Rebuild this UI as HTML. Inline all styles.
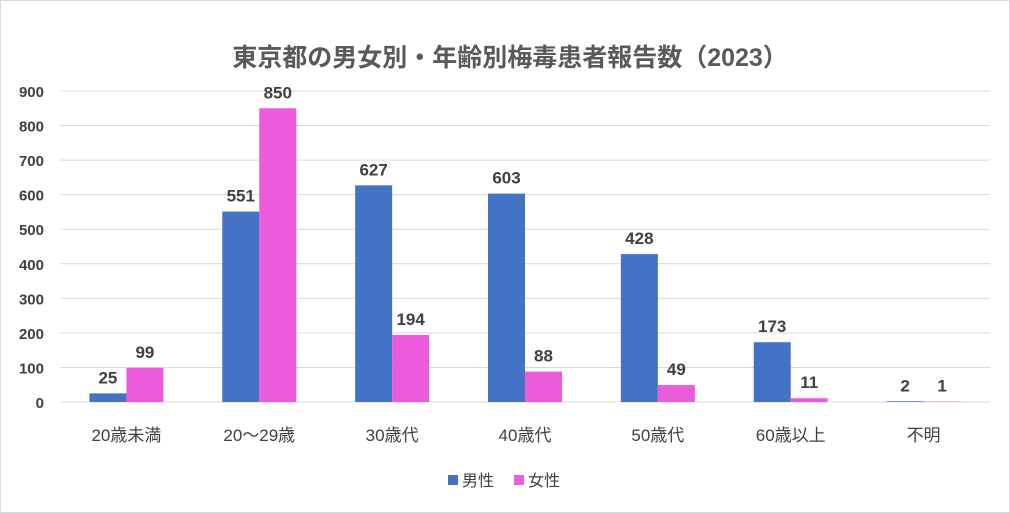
<!DOCTYPE html>
<html><head><meta charset="utf-8"><style>
body{margin:0;background:#fff;}
svg{display:block;font-family:"Liberation Sans","Noto Sans CJK JP",sans-serif;}
</style></head><body>
<svg id="chart" width="1010" height="513">
<rect x="0.5" y="0.5" width="1009" height="512" fill="#fff" stroke="#d9d9d9"/>
<text x="510" y="66" text-anchor="middle" font-size="25" font-weight="bold" fill="#595959">東京都の男女別・年齢別梅毒患者報告数（2023）</text>
<g id="grid"></g><g id="bars"></g><g id="labels"></g>
<g>
<rect x="448" y="475" width="10" height="10" fill="#4472C4"/>
<text x="462" y="486" font-size="16" fill="#404040">男性</text>
<rect x="514" y="475" width="10" height="10" fill="#EB5BDB"/>
<text x="528" y="486" font-size="16" fill="#404040">女性</text>
</g>
</svg>
<script>
const categories=["20歳未満","20～29歳","30歳代","40歳代","50歳代","60歳以上","不明"];
const male=[25,551,627,603,428,173,2];
const female=[99,850,194,88,49,11,1];
const yTicks=[0,100,200,300,400,500,600,700,800,900];
const NS="http://www.w3.org/2000/svg";
const x0=60,x1=990,yBase=402,yTop=91,yMax=900;
const band=(x1-x0)/categories.length,bw=37;
const y=v=>yBase-(v/yMax)*(yBase-yTop);
const cx=i=>x0+band*(i+0.5);
function mk(tag,attrs,parent,text){const e=document.createElementNS(NS,tag);for(const k in attrs)e.setAttribute(k,attrs[k]);if(text!==undefined)e.textContent=text;parent.appendChild(e);return e;}
const grid=document.getElementById('grid'),bars=document.getElementById('bars'),labels=document.getElementById('labels');
yTicks.forEach(t=>{
 const l=mk('line',{x1:x0,x2:x1,y1:y(t),y2:y(t),stroke:'#d9d9d9','stroke-width':1},grid);
 
 
 const tx=mk('text',{x:44,y:y(t)+6,'text-anchor':'end','font-size':15,'font-weight':'bold',fill:'#404040'},grid,String(t));
 
 
});
categories.forEach((c,i)=>{
 const bm=mk('rect',{x:cx(i)-bw,y:y(male[i]),width:bw,height:yBase-y(male[i]),fill:'#4472C4'},bars);
 
 
 const bf=mk('rect',{x:cx(i),y:y(female[i]),width:bw,height:yBase-y(female[i]),fill:'#EB5BDB'},bars);
 
 
 const lm=mk('text',{x:cx(i)-bw/2,y:y(male[i])-10,'text-anchor':'middle','font-size':17,'font-weight':'bold',fill:'#404040'},labels,String(male[i]));
 
 
 const lf=mk('text',{x:cx(i)+bw/2,y:y(female[i])-10,'text-anchor':'middle','font-size':17,'font-weight':'bold',fill:'#404040'},labels,String(female[i]));
 
 
 const cl=mk('text',{x:cx(i),y:441,'text-anchor':'middle','font-size':17,fill:'#404040'},labels,c);
 
 
});
</script>
</body></html>
